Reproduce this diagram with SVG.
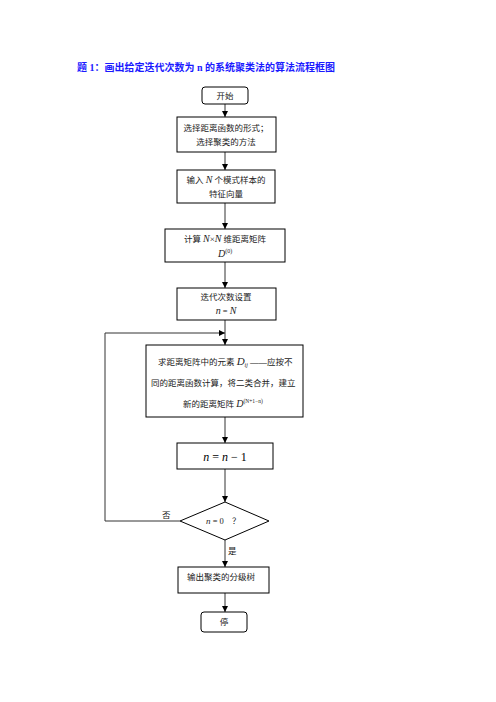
<svg xmlns="http://www.w3.org/2000/svg" width="496" height="702" viewBox="0 0 496 702">
<defs>
<style>
.box{fill:#fff;stroke:#000;stroke-width:1}
.t{font-family:"Liberation Serif","Noto Sans CJK SC",serif;font-size:8.5px;fill:#222}
.m{font-family:"Liberation Serif",serif;font-style:italic}
.c{stroke:#333;stroke-width:1;fill:none}
</style>
<marker id="ah" viewBox="0 0 8 8" refX="8" refY="4" markerWidth="6" markerHeight="6" orient="auto" markerUnits="userSpaceOnUse">
<path d="M0,0 L8,4 L0,8 Z" fill="#000"/>
</marker>
</defs>
<rect width="496" height="702" fill="#fff"/>
<text x="77" y="71" font-family="Liberation Serif,'Noto Sans CJK SC',serif" font-size="10" font-weight="bold" fill="#1a1aff">题 1：画出给定迭代次数为 n 的系统聚类法的算法流程框图</text>

<g id="connectors">
<line class="c" x1="225" y1="104" x2="225" y2="117" marker-end="url(#ah)"/>
<line class="c" x1="225" y1="152" x2="225" y2="170" marker-end="url(#ah)"/>
<line class="c" x1="225" y1="203" x2="225" y2="229" marker-end="url(#ah)"/>
<line class="c" x1="225" y1="262" x2="225" y2="288" marker-end="url(#ah)"/>
<line class="c" x1="225" y1="320" x2="225" y2="345" marker-end="url(#ah)"/>
<polyline class="c" points="180,521 105,521 105,333 225,333" marker-end="url(#ah)"/>
<line class="c" x1="225" y1="417" x2="225" y2="443" marker-end="url(#ah)"/>
<line class="c" x1="225" y1="469" x2="225" y2="502" marker-end="url(#ah)"/>
<line class="c" x1="225" y1="540" x2="225" y2="567" marker-end="url(#ah)"/>
<line class="c" x1="225" y1="593" x2="225" y2="612" marker-end="url(#ah)"/>
<text class="t" x="162" y="518">否</text>
<text class="t" x="228" y="554">是</text>
</g>

<g id="start">
<rect class="box" x="202" y="87" width="46" height="17" rx="3"/>
<text class="t" x="225" y="98.5" text-anchor="middle">开始</text>
</g>
<g id="select">
<rect class="box" x="177" y="117" width="99" height="35"/>
<text class="t" x="226" y="131" text-anchor="middle">选择距离函数的形式；</text>
<text class="t" x="226" y="145" text-anchor="middle">选择聚类的方法</text>
</g>
<g id="input">
<rect class="box" x="177" y="170" width="98" height="33"/>
<text class="t" x="226" y="183" text-anchor="middle">输入 <tspan class="m" font-size="10">N</tspan> 个模式样本的</text>
<text class="t" x="226" y="197" text-anchor="middle">特征向量</text>
</g>
<g id="compute">
<rect class="box" x="165" y="229" width="120" height="33"/>
<text class="t" x="225" y="242" text-anchor="middle">计算 <tspan class="m" font-size="10">N</tspan><tspan font-size="9">×</tspan><tspan class="m" font-size="10">N</tspan> 维距离矩阵</text>
<text class="t" x="218" y="257"><tspan class="m" font-size="10">D</tspan><tspan font-size="6" dy="-4">(0)</tspan></text>
</g>
<g id="iter">
<rect class="box" x="177" y="288" width="99" height="32"/>
<text class="t" x="226" y="300" text-anchor="middle">迭代次数设置</text>
<text class="t" x="226" y="314" text-anchor="middle"><tspan class="m" font-size="10">n</tspan> = <tspan class="m" font-size="10">N</tspan></text>
</g>
<g id="merge">
<rect class="box" x="146" y="345" width="157" height="72"/>
<text class="t" x="158" y="365">求距离矩阵中的元素 <tspan class="m" font-size="11">D</tspan><tspan class="m" font-size="6" dy="2">ij</tspan><tspan dy="-2"> ——应按不</tspan></text>
<text class="t" x="151" y="386">同的距离函数计算，将二类合并，建立</text>
<text class="t" x="183" y="407">新的距离矩阵 <tspan class="m" font-size="10">D</tspan><tspan font-size="5.5" dy="-4">(N+1−n)</tspan></text>
</g>
<g id="dec">
<rect class="box" x="177" y="443" width="96" height="26"/>
<text x="225" y="461" text-anchor="middle" font-family="Liberation Serif,serif" font-size="12" fill="#000"><tspan font-style="italic">n</tspan> = <tspan font-style="italic">n</tspan> − 1</text>
</g>
<g id="cond">
<polygon class="box" points="225,502 269,521 225,540 180,521"/>
<text class="t" x="206" y="524"><tspan class="m" font-size="9">n</tspan> = 0</text>
<text class="t" x="232" y="524">？</text>
</g>
<g id="output">
<rect class="box" x="178" y="567" width="91" height="26"/>
<text class="t" x="187" y="580">输出聚类的分级树</text>
</g>
<g id="stop">
<rect class="box" x="201" y="612" width="46" height="20" rx="3"/>
<text class="t" x="224" y="625" text-anchor="middle">停</text>
</g>
</svg>
